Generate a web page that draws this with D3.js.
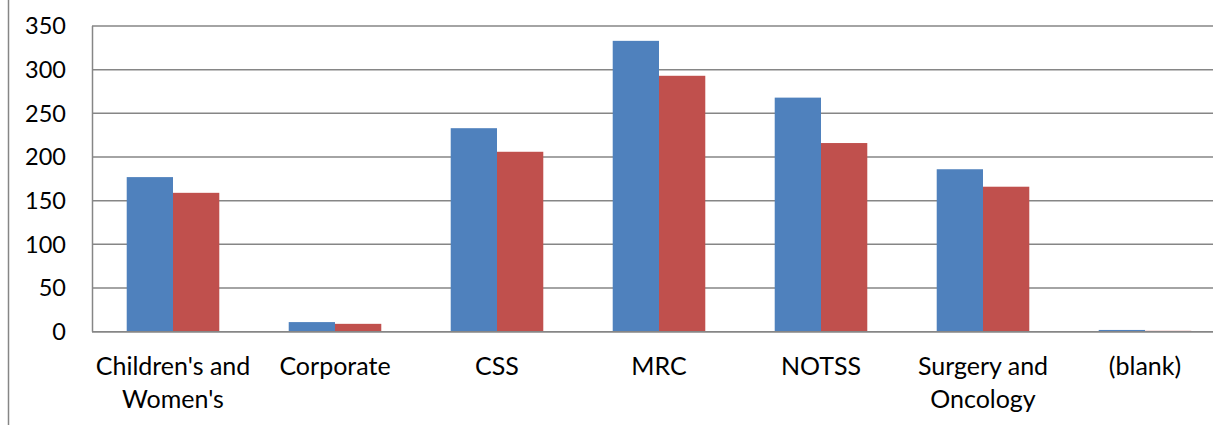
<!DOCTYPE html>
<html>
<head>
<meta charset="utf-8">
<script src="https://cdn.jsdelivr.net/npm/d3@7"></script>
<style>
  body { margin: 0; background: #fff; }
  svg { display: block; }
  text { font-family: Lato, "Open Sans", sans-serif; fill: #000; }
</style>
</head>
<body>
<script>
// Chart data
const categories = ["Children's and Women's", "Corporate", "CSS", "MRC", "NOTSS", "Surgery and Oncology", "(blank)"];
const seriesA = [177, 11, 233, 333, 268, 186, 2];
const seriesB = [159, 9, 206, 293, 216, 166, 1];
const yTicks = [0, 50, 100, 150, 200, 250, 300, 350];

const width = 1213, height = 425;
const margin = { left: 92, top: 26, right: -13, bottom: 93 };

const svg = d3.select('body')
	.append('svg')
	.attr('width', width)
	.attr('height', height);

// Outer chart border (only left edge visible)
svg.append('line')
	.attr('x1', 8.5).attr('x2', 8.5)
	.attr('y1', 0).attr('y2', height)
	.attr('stroke', '#868686')
	.attr('stroke-width', 1.5);

const x = d3.scaleBand()
	.domain(categories)
	.range([margin.left, width - margin.right]);

const y = d3.scaleLinear()
	.domain([0, 350])
	.range([height - margin.bottom - 0.3, margin.top]);

// Gridlines
svg.append('g')
	.selectAll('line')
	.data(yTicks)
	.enter()
	.append('line')
	.attr('x1', margin.left)
	.attr('x2', width)
	.attr('y1', d => y(d))
	.attr('y2', d => y(d))
	.attr('stroke', '#868686')
	.attr('stroke-width', 1.5);

// Bars
const inner = d3.scaleBand()
	.domain([0, 1])
	.range([0, x.bandwidth()])
	.paddingInner(0)
	.paddingOuter(0.75);

const colors = ['#4F81BD', '#C0504D'];
const series = [seriesA, seriesB];

series.forEach((vals, i) => {
	svg.append('g')
		.selectAll('rect')
		.data(categories)
		.enter()
		.append('rect')
		.attr('x', (d, j) => x(d) + inner(i))
		.attr('y', (d, j) => y(vals[j]))
		.attr('width', inner.bandwidth())
		.attr('height', (d, j) => y(0) - y(vals[j]))
		.attr('fill', colors[i]);
});

// Axis lines
svg.append('line')
	.attr('x1', margin.left).attr('x2', width)
	.attr('y1', y(0)).attr('y2', y(0))
	.attr('stroke', '#868686').attr('stroke-width', 1.5);
svg.append('line')
	.attr('x1', margin.left + 0.5).attr('x2', margin.left + 0.5)
	.attr('y1', y(350)).attr('y2', y(0))
	.attr('stroke', '#868686').attr('stroke-width', 1.5);

// Y tick labels
svg.append('g')
	.selectAll('text')
	.data(yTicks)
	.enter()
	.append('text')
	.attr('x', 66)
	.attr('y', d => y(d))
	.attr('dy', '0.36em')
	.attr('text-anchor', 'end')
	.style('font-size', '23.5px')
	.text(d => d);

// X category labels (wrapped like Excel)
const wrapped = {
	"Children's and Women's": ["Children's and", "Women's"],
	"Surgery and Oncology": ["Surgery and", "Oncology"]
};

const labels = svg.append('g')
	.selectAll('text')
	.data(categories)
	.enter()
	.append('text')
	.attr('x', d => x(d) + x.bandwidth() / 2)
	.attr('y', 375)
	.attr('text-anchor', 'middle')
	.style('font-size', '25px');

labels.selectAll('tspan')
	.data(d => wrapped[d] || [d])
	.enter()
	.append('tspan')
	.attr('x', function () { return d3.select(this.parentNode).attr('x'); })
	.attr('dy', (d, i) => i === 0 ? 0 : 33)
	.text(d => d);
</script>
</body>
</html>
